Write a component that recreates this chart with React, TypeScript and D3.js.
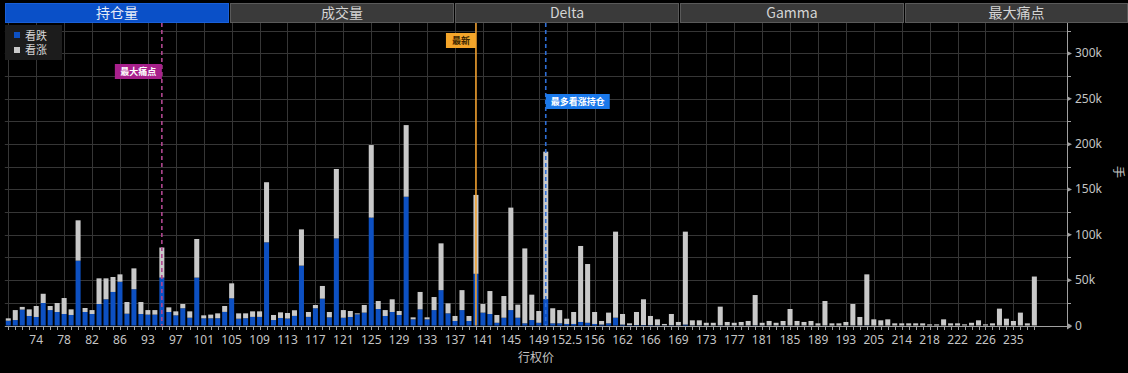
import React, { useEffect } from "react";
import * as d3 from "d3";

const tabs = ["持仓量", "成交量", "Delta", "Gamma", "最大痛点"];

const strikes = [
  "70","71","72","73","74","75","76","77","78","79","80","81","82","83","84","85","86","88","90","92",
  "93","94","95","96","97","98","99","100","101","102","103","104","105","106","107","108","109","110","111","112",
  "113","114","115","116","117","118","119","120","121","122","123","124","125","126","127","128","129","130","131","132",
  "133","134","135","136","137","138","139","140","141","142","143","144","145","146","147","148","149","150","151","152",
  "152.5","153","154","155","156","157","158","160","162","163","164","165","166","167","167.5","168","169","170","171","172",
  "173","174","175","176","177","178","179","180","181","182","183","184","185","186","187","188","189","190","191","192",
  "193","195","200","202","205","207","210","212","214","215","216","217","218","219","220","221","222","223","224","225",
  "226","228","230","232","235","237","240","245"
];

// 看跌 (put) open interest, thousands of contracts
const puts = [
  5.3,6,17.5,10.5,9.4,24.8,17,14.9,12.7,11.6,71.5,14.9,12.7,23.7,28.9,37,48.3,13,40,12.7,
  12,12,52.8,14.9,11.2,19,8.6,52.8,7.9,7.9,8,15,30,7.5,8,9.5,9.5,91.7,6,8.3,
  7.7,10.6,66,9.5,19,29.6,9,96,8.6,9.4,12.3,14.2,119,18.2,10.5,14.9,11.6,142,6.8,17.8,
  6.8,17,39,13.4,5,17,5,57,14.2,12.7,3,8.6,17,8.6,2.4,6,3,29,2.4,2.4,
  1.7,1.7,3.9,3,1.7,1,2.4,8.6,1,0.4,0.5,0.5,0.4,0.3,0.2,0.3,0.2,1,0.2,0.2,
  0.1,0.1,0.2,0.1,0.1,0.1,0.1,0.2,0.1,0.1,0.1,0.2,0.1,0.1,0.1,0.1,0,0.1,0,0,
  0.1,0.1,0.1,0.2,0,0,0,0,0,0,0,0,0,0,0,0,0,0,0,0,
  0,0,0,0,0,0,0,0
];

// 看涨 (call) open interest, thousands of contracts
const calls = [
  2.6,11,3,7.3,12.1,10.2,4.5,9.9,17.6,6.2,44.5,4.4,4.3,28.3,23.1,16.5,8.1,12.9,23,13.2,
  5,5,33.2,5.1,4.4,4.7,7,42.6,3.3,4.1,5.4,6.5,16.5,5.9,5.4,6.1,6.1,66.3,5.6,6.2,
  6.1,6.2,40,5.4,3.6,14,5.9,76.6,8.4,6.6,1.1,8.4,80,8.8,6.5,14,4.4,79,2.2,19.2,
  2.2,14.4,51.6,11,5.5,22,5.5,87,9.5,25.3,8.6,23.9,113,14.4,82.6,28,13,162.7,16.6,14.6,
  5.8,13.2,83.8,64.8,13.2,4,11.8,94.9,11.7,2,14.4,28.4,10.1,6.5,1.5,12.4,3.7,102.5,5.5,5.5,
  2.9,2.9,20.6,3.8,2.9,3.8,4.9,33.4,2.9,4.9,2.9,4.8,18.1,4.9,3.8,4.9,2.4,26.9,2.4,2.4,
  3.8,23.6,9.3,56.2,6.8,5.7,6.8,2.4,2.4,2.4,2.4,2.4,1.3,1.3,6.8,2.4,2.4,1.3,3,5.7,
  1.3,2.4,18.6,7.5,5,14.2,2.4,54
];

const yTicks = [0, 50, 100, 150, 200, 250, 300];
const yMinor = [25, 75, 125, 175, 225, 275, 325];

const maxPainStrike = "95";
const latestStrike = "140";
const maxCallStrike = "150";

const W = 1128;
const H = 373;
const plotLeft = 4.8;
const bandsRight = 1037.84;
const axisX = 1067;
const plotTop = 23;
const zeroY = 325.5;

const BLUE = "#0d50c2";
const GRAY = "#c9c9c9";
const GRID = "#363636";
const AXIS = "#a0a0a0";
const TXT = "#c4c4c4";
const FONT = "'Noto Sans', 'Noto Sans CJK SC', sans-serif";
const CJK = "'Noto Sans CJK SC', 'Noto Sans', sans-serif";

export default function App() {
  useEffect(() => {
    document.body.style.margin = "0";
    document.body.style.background = "#000";
  }, []);

  const x = d3
    .scaleBand<string>()
    .domain(strikes)
    .range([plotLeft, bandsRight])
    .paddingInner(0.28)
    .paddingOuter(0.14);
  const y = d3.scaleLinear().domain([0, 333.6]).range([zeroY, plotTop]);

  const cx = (s: string) => (x(s) as number) + x.bandwidth() / 2;

  const rows = strikes.map((s, i) => ({ strike: s, put: puts[i], call: calls[i] }));
  const stack = d3.stack<any>().keys(["put", "call"])(rows);

  const tabW = 225;

  const markers = [
    { strike: maxPainStrike, label: "最大痛点", color: "#a8208c", line: "#b04790", dash: "4,3", side: "left", boxY: 64, textColor: "#ffffff", w: 47 },
    { strike: latestStrike, label: "最新", color: "#f4a52a", line: "#f0a030", dash: "", side: "left", boxY: 33, textColor: "#3a2400", w: 30 },
    { strike: maxCallStrike, label: "最多看涨持仓", color: "#1a78ea", line: "#2f6fd8", dash: "4,3", side: "right", boxY: 94, textColor: "#ffffff", w: 64 },
  ];

  return (
    <div style={{ position: "absolute", left: 0, top: 0, width: W, height: H, background: "#000" }}>
      <svg width={W} height={H} style={{ display: "block" }}>
        <rect x={0} y={0} width={W} height={H} fill="#000" />

        {/* tabs */}
        {tabs.map((t, i) => {
          const tx = 5 + i * tabW;
          const tw = i === tabs.length - 1 ? W - tx : tabW - 1;
          const active = i === 0;
          return (
            <g key={t}>
              <rect x={tx + 0.5} y={3.5} width={tw - 1} height={19} fill={active ? "#0a50c8" : "#3a3a3a"} stroke={active ? "#1a60d8" : "#5a5a5a"} strokeWidth={1} />
              <text x={tx + tw / 2} y={18} textAnchor="middle" fill={active ? "#e6ecf8" : "#d4d4d4"} fontSize={14} fontFamily={CJK}>{t}</text>
            </g>
          );
        })}

        {/* horizontal grid */}
        {[...yTicks.filter((v) => v > 0), ...yMinor].map((v) => (
          <line key={"h" + v} x1={plotLeft} x2={axisX} y1={Math.round(y(v)) + 0.5} y2={Math.round(y(v)) + 0.5} stroke={GRID} strokeWidth={1} />
        ))}
        {/* vertical grid */}
        {strikes.filter((_, i) => i % 4 === 0).map((s) => (
          <line key={"v" + s} x1={Math.round(cx(s)) + 0.5} x2={Math.round(cx(s)) + 0.5} y1={plotTop} y2={zeroY} stroke={GRID} strokeWidth={1} />
        ))}

        {/* bars */}
        {stack.map((layer, li) => (
          <g key={layer.key} fill={li === 0 ? BLUE : GRAY}>
            {layer.map((d, i) => {
              const h = y(d[0]) - y(d[1]);
              if (h <= 0) return null;
              return <rect key={i} x={x(strikes[i])} y={y(d[1])} width={x.bandwidth()} height={h} />;
            })}
          </g>
        ))}

        {/* marker lines */}
        {markers.map((m) => (
          <line key={"ml" + m.label} x1={cx(m.strike)} x2={cx(m.strike)} y1={plotTop} y2={zeroY} stroke={m.line} strokeWidth={1.6} strokeDasharray={m.dash || undefined} />
        ))}
        {markers.map((m) => {
          const lx = cx(m.strike);
          const bx = m.side === "left" ? lx - m.w : lx;
          return (
            <g key={"mb" + m.label}>
              <rect x={bx} y={m.boxY} width={m.w} height={15} fill={m.color} />
              <text x={bx + m.w / 2} y={m.boxY + 10.8} textAnchor="middle" fill={m.textColor} fontSize={9} fontWeight="bold" fontFamily={CJK}>{m.label}</text>
            </g>
          );
        })}

        {/* x axis */}
        <line x1={plotLeft} x2={axisX} y1={326.5} y2={326.5} stroke={AXIS} strokeWidth={1} />
        <path d={`M${axisX},323.5 L${axisX + 5},326.5 L${axisX},329.5 Z`} fill={AXIS} />
        {strikes.map((s) => (
          <line key={"xt" + s} x1={Math.round(cx(s)) + 0.5} x2={Math.round(cx(s)) + 0.5} y1={327} y2={330} stroke={AXIS} strokeWidth={1} />
        ))}
        {strikes.map((s, i) =>
          i % 4 === 0 && i > 0 ? (
            <text key={"xl" + s} x={cx(s)} y={344} textAnchor="middle" fill={TXT} fontSize={12} fontFamily={FONT}>{s}</text>
          ) : null
        )}
        <text x={536} y={362} textAnchor="middle" fill={TXT} fontSize={12} fontFamily={CJK}>行权价</text>

        {/* y axis */}
        <line x1={axisX + 0.5} x2={axisX + 0.5} y1={plotTop} y2={327} stroke={AXIS} strokeWidth={1} />
        {yMinor.map((v) => (
          <line key={"ym" + v} x1={axisX} x2={axisX + 4} y1={Math.round(y(v)) + 0.5} y2={Math.round(y(v)) + 0.5} stroke={AXIS} strokeWidth={1} />
        ))}
        {yTicks.map((v) => (
          <g key={"yt" + v}>
            <path d={`M${axisX},${y(v) - 2.5} L${axisX + 5},${y(v)} L${axisX},${y(v) + 2.5} Z`} fill={AXIS} />
            <text x={axisX + 8} y={y(v) + 4} fill={TXT} fontSize={12} fontFamily={FONT}>{v === 0 ? "0" : v + "k"}</text>
          </g>
        ))}
        <text transform={`translate(1119,172) rotate(90)`} textAnchor="middle" dominantBaseline="central" fill={TXT} fontSize={12} fontFamily={CJK}>手</text>

        {/* legend */}
        <rect x={5} y={25} width={57} height={35} fill="#1c1c1c" />
        <rect x={14} y={32} width={6} height={6} fill={BLUE} />
        <text x={25} y={39.5} fill="#d8d8d8" fontSize={11} fontFamily={CJK}>看跌</text>
        <rect x={14} y={47} width={6} height={6} fill={GRAY} />
        <text x={25} y={54} fill="#d8d8d8" fontSize={11} fontFamily={CJK}>看涨</text>
      </svg>
    </div>
  );
}
